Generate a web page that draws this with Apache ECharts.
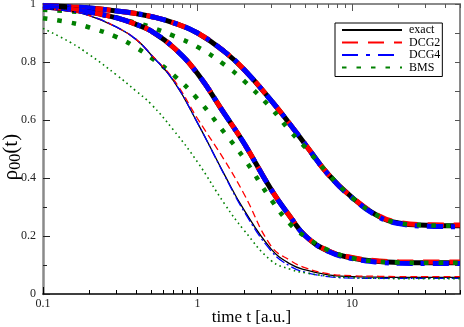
<!DOCTYPE html>
<html><head><meta charset="utf-8">
<script src="https://cdn.jsdelivr.net/npm/echarts@6/dist/echarts.min.js"></script>
<style>html,body{margin:0;padding:0;background:#fff}#c{width:464px;height:327px}</style>
</head><body><div id="c"></div>
<script>
// time grid (a.u.)
const tValues = [0.1,0.15,0.2,0.3,0.4,0.5,0.7,1,1.5,2,3,4,5,7,10,15,20,30,50];
// group 1 (thick, top)
const exact1 = [0.995,0.99,0.986,0.976,0.967,0.957,0.935,0.90,0.835,0.774,0.667,0.583,0.515,0.413,0.333,0.267,0.245,0.237,0.235];
const dcg2_1 = [0.995,0.99,0.986,0.976,0.967,0.957,0.935,0.90,0.835,0.774,0.667,0.583,0.515,0.413,0.334,0.269,0.247,0.239,0.238];
const dcg4_1 = [0.995,0.99,0.986,0.976,0.967,0.957,0.935,0.90,0.835,0.774,0.667,0.583,0.515,0.413,0.332,0.265,0.243,0.234,0.232];
const bms1   = [0.98,0.975,0.968,0.953,0.935,0.92,0.89,0.852,0.79,0.735,0.64,0.56,0.505,0.415,0.333,0.267,0.245,0.237,0.235];
// group 2 (thick, middle)
const exact2 = [0.99,0.982,0.972,0.952,0.93,0.907,0.85,0.76,0.62,0.52,0.36,0.265,0.2,0.148,0.124,0.112,0.109,0.108,0.108];
const dcg2_2 = [0.99,0.982,0.972,0.952,0.93,0.907,0.85,0.76,0.62,0.52,0.36,0.265,0.2,0.149,0.126,0.114,0.111,0.11,0.11];
const dcg4_2 = [0.99,0.982,0.972,0.952,0.93,0.907,0.85,0.76,0.62,0.52,0.36,0.265,0.2,0.147,0.122,0.109,0.106,0.105,0.105];
const bms2   = [0.951,0.936,0.919,0.886,0.85,0.815,0.755,0.673,0.555,0.468,0.325,0.24,0.197,0.152,0.124,0.112,0.109,0.108,0.108];
// group 3 (thin, bottom)
const exact3 = [0.985,0.975,0.96,0.92,0.878,0.825,0.735,0.59,0.41,0.29,0.155,0.103,0.083,0.066,0.06,0.058,0.057,0.057,0.057];
const dcg2_3 = [0.985,0.975,0.96,0.92,0.878,0.826,0.74,0.605,0.46,0.345,0.165,0.115,0.09,0.07,0.063,0.061,0.06,0.06,0.06];
const dcg4_3 = [0.985,0.975,0.96,0.92,0.878,0.825,0.735,0.59,0.408,0.285,0.148,0.095,0.075,0.06,0.055,0.054,0.054,0.054,0.054];
const bms3   = [0.916,0.868,0.825,0.755,0.70,0.655,0.565,0.455,0.31,0.22,0.115,0.085,0.073,0.062,0.056,0.054,0.053,0.053,0.053];
// ticks
const xMajorTicks = [0.1,1,10];
const xMinorTicks = [0.2,0.3,0.4,0.5,0.6,0.7,0.8,0.9,2,3,4,5,6,7,8,9,20,30,40,50];
const legendNames = ['exact','DCG2','DCG4','BMS'];

const FONT = '"Liberation Serif","DejaVu Serif",serif';
const GRAY = '#8a8a8a';

function mk(name, vals, color, width, dash) {
  return {
    name: name, type: 'line', xAxisIndex: 0, yAxisIndex: 0,
    data: tValues.map((t, i) => [t, vals[i]]),
    showSymbol: false, symbol: 'none', smooth: 0.45,
    lineStyle: { color: color, width: width, type: dash, cap: 'butt' },
    itemStyle: { color: color },
    emphasis: { disabled: true }
  };
}
const thick = 5, thin = 1.3;
const series = [
  mk('exact', exact1, '#000', thick, 'solid'),
  mk('DCG2', dcg2_1, '#ff0000', thick, [16, 10]),
  mk('DCG4', dcg4_1, '#0000ff', thick, [16, 8, 4, 8]),
  mk('BMS', bms1, '#008000', 4.5, [4.5, 10]),
  mk('exact', exact2, '#000', thick, 'solid'),
  mk('DCG2', dcg2_2, '#ff0000', thick, [16, 10]),
  mk('DCG4', dcg4_2, '#0000ff', thick, [16, 8, 4, 8]),
  mk('BMS', bms2, '#008000', 4.5, [4.5, 10]),
  mk('exact', exact3, '#000', thin, 'solid'),
  mk('DCG2', dcg2_3, '#ff0000', thin, [7, 4]),
  mk('DCG4', dcg4_3, '#0000ff', thin, [10, 3, 2, 3]),
  mk('BMS', bms3, '#008000', 1.6, [1.6, 3.4])
];

function xAx(pos, ticks, len, showLine, showLabel, color, extra) {
  return Object.assign({
    type: 'log', logBase: 10, min: 0.1, max: 50, position: pos,
    axisLine: { show: showLine, onZero: false, lineStyle: { color: color, width: pos === 'bottom' ? 1.5 : 2 } },
    axisTick: { show: true, inside: true, length: len, customValues: ticks, lineStyle: { color: pos === 'bottom' ? '#000' : '#555', width: 1 } },
    axisLabel: { show: showLabel, customValues: ticks, margin: 4, fontFamily: FONT, fontSize: 12, color: '#222',
      formatter: v => String(+Number(v).toPrecision(3)) },
    splitLine: { show: false }, minorTick: { show: false }
  }, extra || {});
}

const chart = echarts.init(document.getElementById('c'), null, { renderer: 'canvas' });
chart.setOption({
  animation: false,
  backgroundColor: '#fff',
  grid: { left: 43, right: 4, top: 4, bottom: 33, containLabel: false, outerBoundsMode: 'none' },
  legend: {
    data: legendNames, orient: 'vertical', left: 335, top: 23,
    itemWidth: 60, itemHeight: 6, itemGap: 0.5,
    padding: [1, 2, 3, 6],
    backgroundColor: '#fff', borderColor: '#000', borderWidth: 1,
    itemStyle: { opacity: 0 },
    textStyle: { fontFamily: FONT, fontSize: 12, lineHeight: 12, color: '#000', padding: [0, 0, 0, 2] },
    selectedMode: false
  },
  xAxis: [
    xAx('bottom', xMajorTicks, 7, true, true, '#000', {
      name: 'time t [a.u.]', nameLocation: 'middle', nameGap: 15, nameMoveOverlap: false,
      nameTextStyle: { fontFamily: FONT, fontSize: 17, color: '#000' }
    }),
    xAx('bottom', xMinorTicks, 4, false, false, '#000'),
    xAx('top', xMajorTicks, 7, true, false, GRAY),
    xAx('top', xMinorTicks, 4, false, false, GRAY)
  ],
  yAxis: [
    {
      type: 'value', min: 0, max: 1, interval: 0.2, position: 'left',
      axisLine: { show: true, onZero: false, lineStyle: { color: GRAY, width: 2.5 } },
      axisTick: { show: true, inside: true, length: 7, lineStyle: { color: '#222', width: 1 } },
      minorTick: { show: true, splitNumber: 2, length: 4, lineStyle: { color: '#222', width: 1 } },
      axisLabel: { margin: 7, fontFamily: FONT, fontSize: 12, color: '#222',
        formatter: v => String(+v.toFixed(1)) },
      splitLine: { show: false }, minorSplitLine: { show: false },
      name: '{a|ρ}{b|00}{a|(t)}', nameLocation: 'middle', nameRotate: 90, nameGap: 19, nameMoveOverlap: false,
      nameTextStyle: {
        fontFamily: FONT, color: '#000', padding: [0, 16, 0, 0],
        rich: {
          a: { fontFamily: FONT, fontSize: 21, color: '#000', lineHeight: 26 },
          b: { fontFamily: FONT, fontSize: 16, color: '#000', lineHeight: 12, verticalAlign: 'bottom' }
        }
      }
    },
    {
      type: 'value', min: 0, max: 1, interval: 0.1, position: 'right',
      axisLine: { show: true, onZero: false, lineStyle: { color: GRAY, width: 2 } },
      axisTick: { show: true, inside: true, length: 5, lineStyle: { color: '#555', width: 1 } },
      axisLabel: { show: false }, splitLine: { show: false }
    }
  ],
  series: series
});
</script>
</body></html>
